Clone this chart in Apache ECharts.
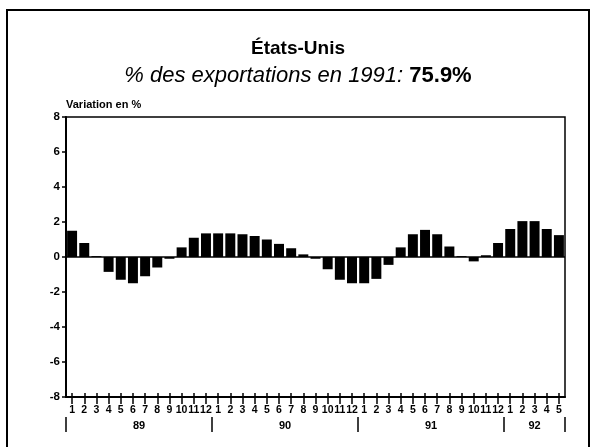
<!DOCTYPE html>
<html>
<head>
<meta charset="utf-8">
<script src="https://cdn.jsdelivr.net/npm/echarts@6/dist/echarts.min.js"></script>
<style>
  html, body { margin: 0; padding: 0; background: #fff; }
  #chart { width: 596px; height: 447px; }
</style>
</head>
<body>
<div id="chart"></div>
<script>
// Monthly change (%) of exports to the United States, Jan 1989 – May 1992
const years = ['89', '90', '91', '92'];
const monthLabels = ['1', '2', '3', '4', '5', '6', '7', '8', '9', '10', '11', '12'];
const values89 = [1.5, 0.8, 0.05, -0.85, -1.3, -1.5, -1.1, -0.6, -0.1, 0.55, 1.1, 1.35];
const values90 = [1.35, 1.35, 1.3, 1.2, 1.0, 0.75, 0.5, 0.15, -0.1, -0.7, -1.3, -1.5];
const values91 = [-1.5, -1.25, -0.45, 0.55, 1.3, 1.55, 1.3, 0.6, 0.05, -0.25, 0.1, 0.8];
const values92 = [1.6, 2.05, 2.05, 1.6, 1.25];
const yTicks = [-8, -6, -4, -2, 0, 2, 4, 6, 8];

const yearValues = [values89, values90, values91, values92];
const categories = [];
const values = [];
const yearStarts = [];
const yearCenters = [];
yearValues.forEach((arr, yi) => {
  yearStarts.push(categories.length);
  yearCenters.push(categories.length + arr.length / 2);
  arr.forEach((v, mi) => {
    categories.push(years[yi] + '-' + monthLabels[mi]);
    values.push(v);
  });
});
yearStarts.push(categories.length);

const FONT = '"Liberation Sans", Arial, sans-serif';
const chart = echarts.init(document.getElementById('chart'), null, { renderer: 'canvas' });

chart.setOption({
  animation: false,
  backgroundColor: '#fff',
  title: {
    text: 'États-Unis',
    subtext: '{i|% des exportations en 1991:} {b|75.9%}',
    left: 'center',
    top: 34,
    itemGap: 7,
    textStyle: { fontFamily: FONT, fontSize: 19, fontWeight: 'bold', color: '#000' },
    subtextStyle: {
      fontFamily: FONT,
      fontSize: 22,
      color: '#000',
      rich: {
        i: { fontFamily: FONT, fontSize: 22, fontStyle: 'italic', color: '#000' },
        b: { fontFamily: FONT, fontSize: 22, fontWeight: 'bold', color: '#000' }
      }
    }
  },
  graphic: [{
    type: 'rect',
    shape: { x: 7, y: 10, width: 582, height: 460 },
    style: { fill: 'none', stroke: '#000', lineWidth: 2 },
    silent: true
  }],
  grid: {
    left: 66, right: 31, top: 117, bottom: 50,
    show: true, borderColor: '#000', borderWidth: 1.5, backgroundColor: 'transparent'
  },
  xAxis: [
    {
      type: 'category',
      data: categories,
      position: 'bottom',
      axisLine: { onZero: false, lineStyle: { color: '#000', width: 2 } },
      axisTick: { show: true, interval: 0, alignWithLabel: true, inside: false, length: 7, lineStyle: { color: '#000', width: 1.5 } },
      axisLabel: {
        interval: 0,
        hideOverlap: false,
        margin: 8,
        formatter: (v) => v.split('-')[1],
        fontFamily: FONT, fontSize: 10.5, fontWeight: 'bold', color: '#000'
      },
      splitLine: { show: false }
    },
    {
      type: 'category',
      data: categories,
      position: 'bottom',
      axisLine: { show: false, onZero: false },
      axisTick: { show: true, interval: 0, alignWithLabel: true, inside: true, length: 4, lineStyle: { color: '#000', width: 1.5 } },
      axisLabel: { show: false, interval: 0 },
      splitLine: { show: false }
    },
    {
      type: 'value',
      min: 0,
      max: categories.length,
      position: 'bottom',
      offset: 20,
      axisLine: { show: false, onZero: false },
      axisTick: { show: true, customValues: yearStarts, length: 15, lineStyle: { color: '#000', width: 1.5 } },
      axisLabel: {
        customValues: yearCenters,
        formatter: (v) => years[yearCenters.indexOf(v)] || '',
        margin: 3,
        fontFamily: FONT, fontSize: 11, fontWeight: 'bold', color: '#000'
      },
      splitLine: { show: false }
    }
  ],
  yAxis: {
    type: 'value',
    min: yTicks[0],
    max: yTicks[yTicks.length - 1],
    interval: 2,
    name: 'Variation en %',
    nameLocation: 'end',
    nameGap: 7,
    nameTextStyle: { align: 'left', fontFamily: FONT, fontSize: 11, fontWeight: 'bold', color: '#000' },
    axisLine: { show: true, lineStyle: { color: '#000', width: 2 } },
    axisTick: { show: true, inside: false, length: 4, lineStyle: { color: '#000', width: 1.5 } },
    axisLabel: { margin: 6, fontFamily: FONT, fontSize: 11.5, fontWeight: 'bold', color: '#000' },
    splitLine: { show: false }
  },
  series: [{
    type: 'bar',
    xAxisIndex: 0,
    data: values,
    barCategoryGap: '18%',
    itemStyle: { color: '#000' },
    markLine: {
      silent: true,
      symbol: 'none',
      label: { show: false },
      lineStyle: { color: '#000', width: 1.5, type: 'solid' },
      data: [{ yAxis: 0 }]
    }
  }]
});
</script>
</body>
</html>
